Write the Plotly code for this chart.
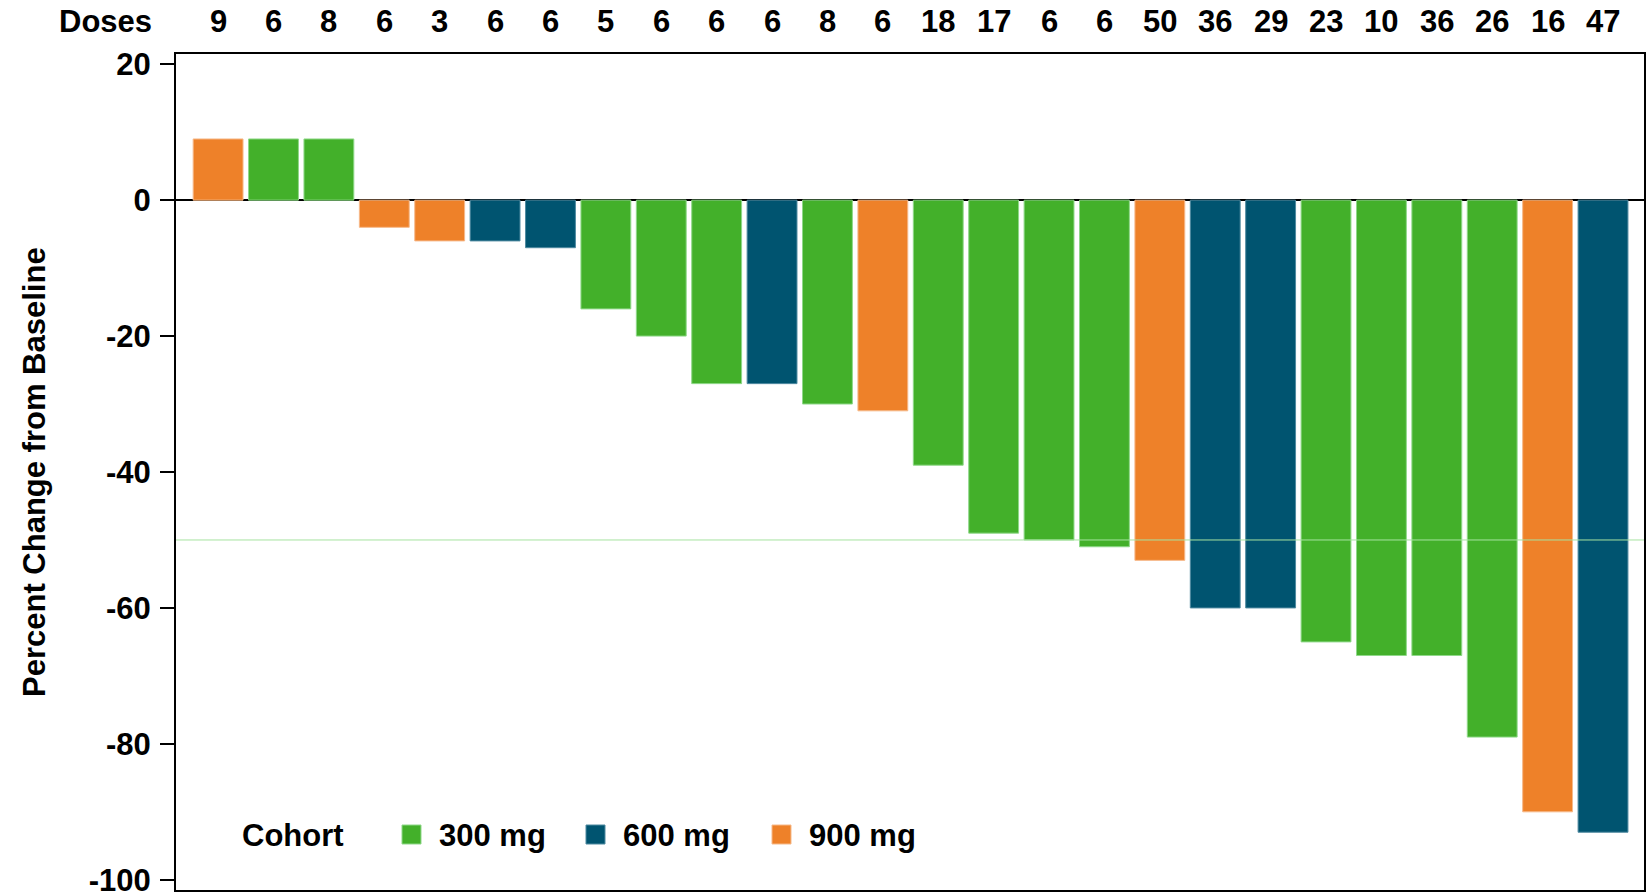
import plotly.graph_objects as go

# Data (one entry per patient, ordered as in the waterfall)
doses = [9, 6, 8, 6, 3, 6, 6, 5, 6, 6, 6, 8, 6, 18, 17, 6, 6, 50, 36, 29, 23, 10, 36, 26, 16, 47]
pct_change = [9, 9, 9, -4, -6, -6, -7, -16, -20, -27, -27, -30, -31, -39, -49, -50, -51, -53,
              -60, -60, -65, -67, -67, -79, -90, -93]
cohort = ["900 mg", "300 mg", "300 mg", "900 mg", "900 mg", "600 mg", "600 mg", "300 mg",
          "300 mg", "300 mg", "600 mg", "300 mg", "900 mg", "300 mg", "300 mg", "300 mg",
          "300 mg", "900 mg", "600 mg", "600 mg", "300 mg", "300 mg", "300 mg", "300 mg",
          "900 mg", "600 mg"]
cohort_names = ["300 mg", "600 mg", "900 mg"]
cohort_colors = {"300 mg": "#43B02A", "600 mg": "#005470", "900 mg": "#EE8129"}
cohort_edges = {"300 mg": "#8FD889", "600 mg": "#4F8AA0", "900 mg": "#F6B98A"}
y_ticks = [20, 0, -20, -40, -60, -80, -100]
threshold = -50

FONT = "Liberation Sans, Arial, sans-serif"
FS = 31
W, H = 1647, 892
ML, MR, MT, MB = 176, 3, 54, 2
PW, PH = W - ML - MR, H - MT - MB


def px_x(px):
    return (px - ML) / PW


def px_y(py):
    return (H - MB - py) / PH


positions = list(range(len(pct_change)))

fig = go.Figure()
for name in cohort_names:
    xs = [p for p, c in zip(positions, cohort) if c == name]
    ys = [v for v, c in zip(pct_change, cohort) if c == name]
    fig.add_trace(go.Bar(
        x=xs, y=ys, name=name, width=0.9, showlegend=False,
        marker=dict(color=cohort_colors[name], line=dict(color=cohort_edges[name], width=1)),
    ))

# Doses row above the plot
fig.add_annotation(x=0, xref="paper", y=1, yref="paper", yshift=33, xshift=-22,
                   text="<b>Doses</b>", showarrow=False, xanchor="right", yanchor="middle",
                   font=dict(family=FONT, size=FS, color="black"))
for p, d in zip(positions, doses):
    fig.add_annotation(x=p, xref="x", y=1, yref="paper", yshift=33,
                       text=f"<b>{d}</b>", showarrow=False, xanchor="center", yanchor="middle",
                       font=dict(family=FONT, size=FS, color="black"))

# Y axis title
fig.add_annotation(x=px_x(34), xref="paper", y=0.5, yref="paper", textangle=-90,
                   text="<b>Percent Change from Baseline</b>", showarrow=False,
                   xanchor="center", yanchor="middle",
                   font=dict(family=FONT, size=FS, color="black"))

# -50% reference line
fig.add_shape(type="line", xref="paper", x0=0, x1=1, yref="y", y0=threshold, y1=threshold,
              line=dict(color="#A6E3A0", width=1), layer="above")

# Legend (drawn inside the plot, bottom-left)
leg_y = px_y(835)
fig.add_annotation(x=px_x(240), xref="paper", y=leg_y, yref="paper", text="<b>Cohort</b>",
                   showarrow=False, xanchor="left", yanchor="middle",
                   font=dict(family=FONT, size=FS, color="black"))
sq_left = [402, 586, 772]
for name, sx in zip(cohort_names, sq_left):
    fig.add_shape(type="rect", xref="paper", yref="paper",
                  x0=px_x(sx), x1=px_x(sx + 19), y0=px_y(844), y1=px_y(825),
                  fillcolor=cohort_colors[name], line=dict(color=cohort_edges[name], width=1))
    fig.add_annotation(x=px_x(sx + 35), xref="paper", y=leg_y, yref="paper",
                       text=f"<b>{name}</b>", showarrow=False, xanchor="left", yanchor="middle",
                       font=dict(family=FONT, size=FS, color="black"))

fig.update_layout(
    width=W, height=H,
    margin=dict(l=ML, r=MR, t=MT, b=MB),
    plot_bgcolor="white", paper_bgcolor="white",
    barmode="overlay",
    font=dict(family=FONT, size=FS, color="black"),
    showlegend=False,
    xaxis=dict(range=[-0.76, 25.74], showticklabels=False, ticks="", showgrid=False,
               automargin=False,
               zeroline=False, showline=True, linecolor="black", linewidth=2, mirror=True),
    yaxis=dict(range=[-101.5, 21.5], tickvals=y_ticks, ticktext=[f"<b>{t}</b>" for t in y_ticks],
               ticks="outside", ticklen=14, tickwidth=2, tickcolor="black",
               ticklabelstandoff=3, automargin=False, ticklabeloverflow="allow",
               tickfont=dict(family=FONT, size=FS, color="black"),
               showgrid=False, zeroline=True, zerolinecolor="black", zerolinewidth=2,
               showline=True, linecolor="black", linewidth=2, mirror=True),
)

fig.write_html("out.html", config={"displayModeBar": False},
               post_script="document.body.style.margin='0';document.body.style.overflow='hidden';")
